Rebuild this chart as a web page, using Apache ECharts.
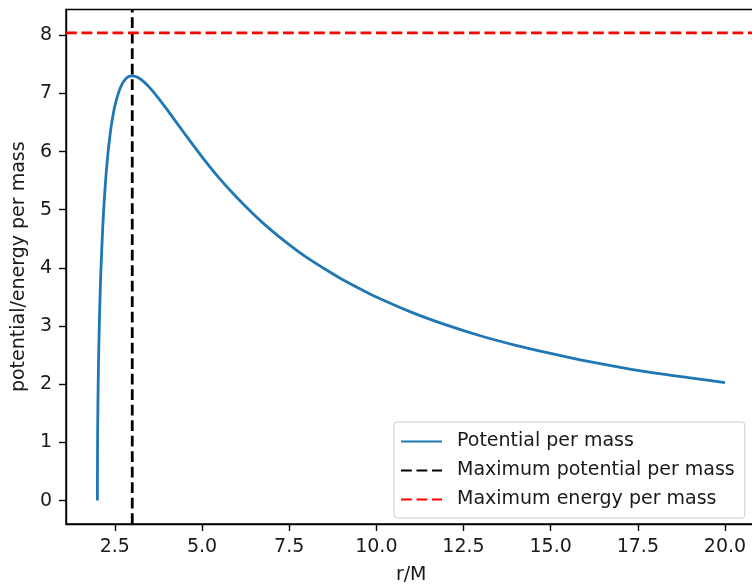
<!DOCTYPE html>
<html>
<head>
<meta charset="utf-8">
<script src="https://cdn.jsdelivr.net/npm/echarts@6/dist/echarts.min.js"></script>
<style>
  html, body { margin: 0; padding: 0; background: #fff; }
  #chart { width: 752px; height: 586px; }
</style>
</head>
<body>
<div id="chart"></div>
<script>
// values
const rValues = [2, 2.005, 2.01, 2.02, 2.03, 2.05, 2.075, 2.1, 2.15, 2.2, 2.25, 2.3, 2.35, 2.4, 2.45,
  2.5, 2.6, 2.7, 2.8, 2.9, 3.0, 3.1, 3.2, 3.35, 3.5, 3.75, 4, 4.5, 5, 5.5, 6, 6.5, 7,
  7.5, 8, 8.5, 9, 9.5, 10, 11, 12, 13, 14, 15, 16, 17, 18, 19, 20];
const potential = [0, 0.94, 1.33, 1.87, 2.27, 2.89, 3.47, 3.94, 4.65, 5.19, 5.61, 5.95, 6.22, 6.45, 6.63,
  6.78, 7.00, 7.15, 7.24, 7.29, 7.30, 7.29, 7.26, 7.19, 7.10, 6.92, 6.72, 6.31, 5.91, 5.54, 5.21, 4.91, 4.64,
  4.40, 4.18, 3.99, 3.81, 3.65, 3.50, 3.24, 3.02, 2.83, 2.67, 2.53, 2.40, 2.29, 2.19, 2.11, 2.03];
const maxPotentialR = 3.0;
const maxEnergy = 8.04;
const xTicks = [2.5, 5, 7.5, 10, 12.5, 15, 17.5, 20];
const yTicks = [0, 1, 2, 3, 4, 5, 6, 7, 8];
const xRange = [1.1, 20.9];
const yRange = [-0.402, 8.442];

const chart = echarts.init(document.getElementById('chart'));
const font = 'DejaVu Sans';
const ink = '#1a1a1a';

const option = {
  animation: false,
  grid: {
    left: 66, top: 9.5, right: -4.4, bottom: 62,
    outerBoundsMode: 'none', containLabel: false,
    show: true, borderColor: '#000', borderWidth: 1.4, backgroundColor: 'transparent'
  },
  legend: {
    orient: 'vertical',
    left: 394, top: 422,
    padding: [10, 10, 9, 6],
    itemWidth: 41, itemHeight: 14, itemGap: 10,
    itemStyle: { opacity: 0 },
    backgroundColor: 'rgba(255,255,255,0.8)',
    borderColor: '#cccccc', borderWidth: 1, borderRadius: 3,
    textStyle: { fontFamily: font, fontSize: 19, color: ink, padding: [0, 0, 0, 10] },
    data: ['Potential per mass', 'Maximum potential per mass', 'Maximum energy per mass']
  },
  xAxis: {
    type: 'value', min: xRange[0], max: xRange[1],
    name: 'r/M', nameLocation: 'middle', nameGap: 42,
    nameTextStyle: { fontFamily: font, fontSize: 19, color: ink },
    splitLine: { show: false },
    axisLine: { show: true, onZero: false, lineStyle: { color: '#000', width: 1.4 } },
    axisTick: { show: true, length: 7, customValues: xTicks, lineStyle: { color: '#000', width: 1.4 } },
    axisLabel: {
      margin: 14, fontFamily: font, fontSize: 19, color: ink,
      customValues: xTicks, formatter: v => Number(v).toFixed(1)
    }
  },
  yAxis: {
    type: 'value', min: yRange[0], max: yRange[1],
    name: 'potential/energy per mass', nameLocation: 'middle', nameGap: 37,
    nameTextStyle: { fontFamily: font, fontSize: 19, color: ink },
    splitLine: { show: false },
    axisLine: { show: true, onZero: false, lineStyle: { color: '#000', width: 1.4 } },
    axisTick: { show: true, length: 7, customValues: yTicks, lineStyle: { color: '#000', width: 1.4 } },
    axisLabel: {
      margin: 14, fontFamily: font, fontSize: 19, color: ink,
      customValues: yTicks, formatter: v => String(Math.round(v))
    }
  },
  series: [
    {
      name: 'Potential per mass', type: 'line', symbol: 'none', smooth: 0.3,
      data: rValues.map((r, i) => [r, potential[i]]),
      lineStyle: { color: '#1f77b4', width: 2.8 }, itemStyle: { color: '#1f77b4' }
    },
    {
      name: 'Maximum potential per mass', type: 'line', symbol: 'none',
      data: [[maxPotentialR, yRange[0]], [maxPotentialR, yRange[1]]],
      lineStyle: { color: '#000', width: 2.8, type: [10.8, 4.7] }, itemStyle: { color: '#000' }
    },
    {
      name: 'Maximum energy per mass', type: 'line', symbol: 'none',
      data: [[xRange[0], maxEnergy], [xRange[1], maxEnergy]],
      lineStyle: { color: '#ff0000', width: 2.8, type: [10.8, 4.7] }, itemStyle: { color: '#ff0000' }
    }
  ]
};
chart.setOption(option);
</script>
</body>
</html>
